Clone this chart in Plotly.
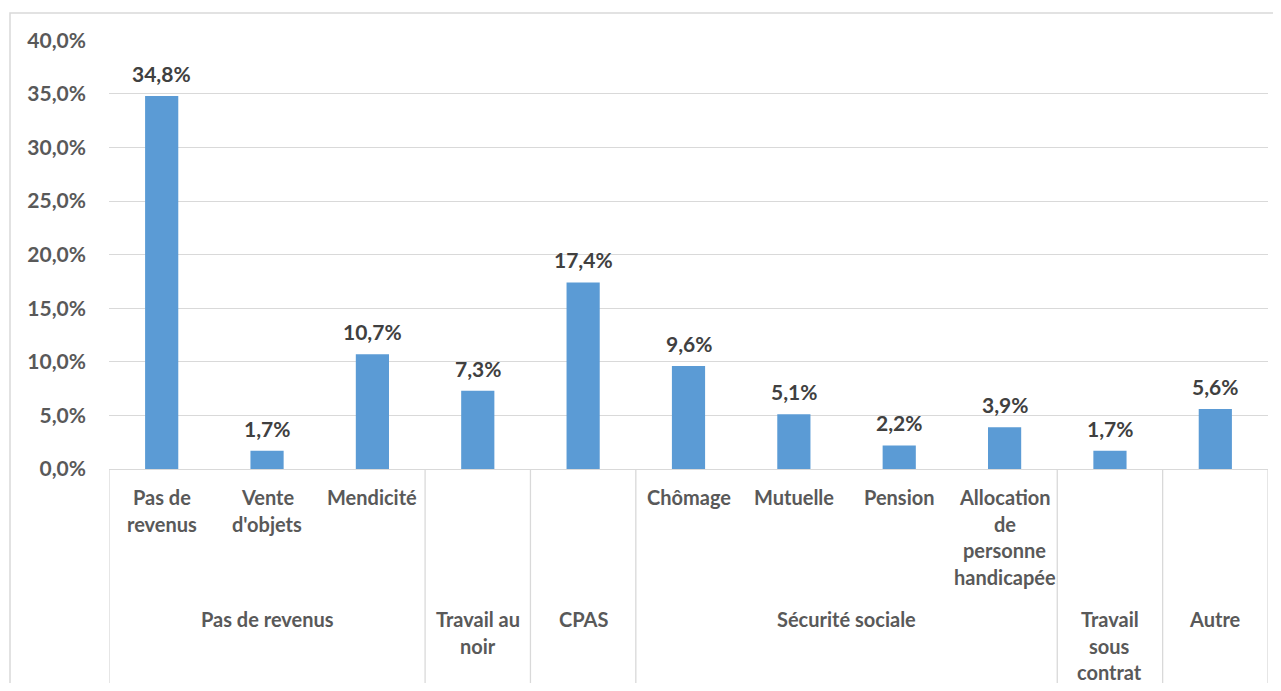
import plotly.graph_objects as go

# ---- data ----
categories = ["Pas de revenus", "Vente d'objets", "Mendicité", "Travail au noir", "CPAS",
              "Chômage", "Mutuelle", "Pension", "Allocation de personne handicapée",
              "Travail sous contrat", "Autre"]
inner_labels = ["Pas de\nrevenus", "Vente\nd'objets", "Mendicité", "", "",
                "Chômage", "Mutuelle", "Pension", "Allocation\nde\npersonne\nhandicapée",
                "", ""]
values = [0.348, 0.017, 0.107, 0.073, 0.174, 0.096, 0.051, 0.022, 0.039, 0.017, 0.056]
groups = ["Pas de revenus", "Travail au\nnoir", "CPAS", "Sécurité sociale", "Travail\nsous\ncontrat", "Autre"]
group_sizes = [3, 1, 1, 4, 1, 1]

# page offset of the figure (default body margin)
OFF = 8
W, H = 1281 - 2 * OFF, 691 - 2 * OFF
# target page pixel geometry of the plot area
PL, PR, PT, PB = 109, 1268, 40, 469
L, T = PL - OFF, PT - OFF
R = W - (PR - OFF)
B = H - (PB - OFF)
plot_h = PB - PT
plot_w = PR - PL

FONT = "Lato"
BAR = "#5B9BD5"
GRID = "#D9D9D9"
LABEL = "#595959"
DATA = "#404040"
TXT = 20
NUM = 21

fig = go.Figure()
fig.add_trace(go.Bar(x=categories, y=values, marker_color=BAR, marker_line_width=0,
                     hoverinfo="skip"))

ann = []
# data labels
for c, v in zip(categories, values):
    ann.append(dict(x=c, y=v, xref="x", yref="y", text=f"<b>{v*100:.1f}%</b>".replace(".", ","),
                    showarrow=False, yanchor="bottom", yshift=8,
                    font=dict(family=FONT, size=NUM, color=DATA)))

def py(px):
    return -(px - PB) / plot_h

def pxx(px):
    return (px - PL) / plot_w

LINE_H = 26.5
# inner labels
for c, lab in zip(categories, inner_labels):
    if not lab:
        continue
    for k, line in enumerate(lab.split("\n")):
        ann.append(dict(x=c, y=py(497 + k * LINE_H), xref="x", yref="paper",
                        text=f"<b>{line}</b>", showarrow=False, yanchor="middle",
                        font=dict(family=FONT, size=TXT, color=LABEL)))
# outer labels and dividers
shapes = []
start = 0
bounds = [start - 0.5]
for g, n in zip(groups, group_sizes):
    center = start + (n - 1) / 2
    for k, line in enumerate(g.split("\n")):
        ann.append(dict(x=center, y=py(619 + k * LINE_H), xref="x", yref="paper",
                        text=f"<b>{line}</b>", showarrow=False, yanchor="middle",
                        font=dict(family=FONT, size=TXT, color=LABEL)))
    start += n
    bounds.append(start - 0.5)
for b in bounds:
    shapes.append(dict(type="line", xref="x", yref="paper", x0=b, x1=b, y0=0, y1=py(700),
                       line=dict(color=GRID, width=1.3)))
# chart border
shapes.append(dict(type="rect", xref="paper", yref="paper", x0=pxx(10), x1=pxx(1300),
                   y0=py(720), y1=py(13), line=dict(color=GRID, width=1.5)))

fig.update_layout(
    width=W, height=H,
    margin=dict(l=L, r=R, t=T, b=B),
    paper_bgcolor="white", plot_bgcolor="white",
    separators=",.",
    bargap=0.685,
    showlegend=False,
    annotations=ann,
    shapes=shapes,
    font=dict(family=FONT, size=TXT, color=LABEL),
)
fig.update_xaxes(showticklabels=False, ticks="", showgrid=False, showline=True,
                 linecolor=GRID, linewidth=1.3, range=[-0.5, len(categories) - 0.5])
fig.update_yaxes(range=[0, 0.4002], dtick=0.05, tickformat=".1%", showgrid=True,
                 gridcolor=GRID, gridwidth=1.3, zeroline=False, showline=False, ticks="",
                 ticklabelstandoff=22,
                 tickfont=dict(family=FONT, size=NUM, color=LABEL, weight="bold"))

fig.write_html("out.html")
